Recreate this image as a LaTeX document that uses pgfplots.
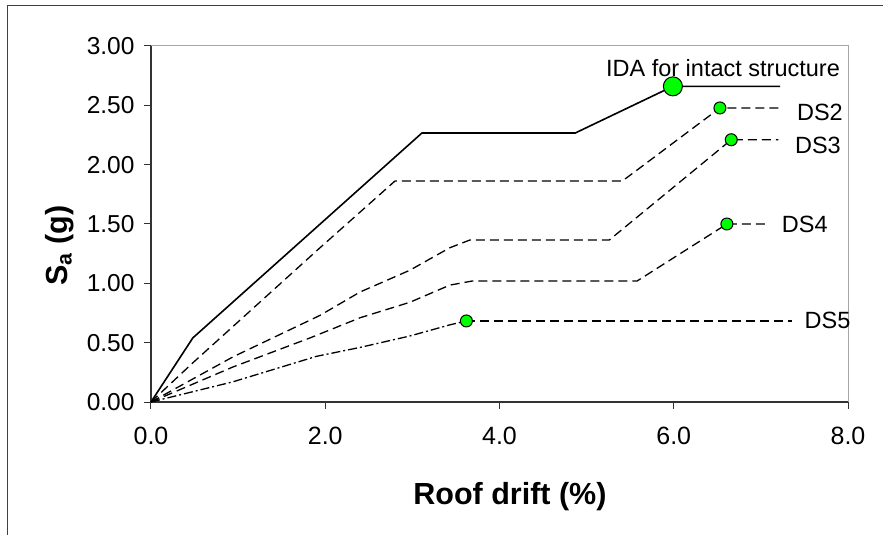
\documentclass[border=0pt]{standalone}
\usepackage{fontspec}
\setmainfont{Liberation Sans}
\usepackage{pgfplots}
\pgfplotsset{compat=1.18}
\definecolor{mgreen}{RGB}{0,255,0}
\begin{document}
\begin{tikzpicture}
\useasboundingbox (-151pt,-133pt) rectangle (732pt,402pt);
\draw[black!75, line width=1pt] (-143pt,-140pt) -- (-143pt,396pt) -- (740pt,396pt);
\begin{axis}[
  at={(0pt,0pt)}, anchor=south west,
  scale only axis, width=697pt, height=356pt,
  xmin=0, xmax=8, ymin=0, ymax=3,
  xtick={0,2,4,6,8}, ytick={0,0.5,1,1.5,2,2.5,3},
  axis x line*=bottom, axis y line*=left,
  axis line style={-, line width=1.2pt, black!80},
  tick align=outside, major tick length=7pt,
  tick style={black!80, line width=1pt},
  /pgf/number format/assume math mode=true,
  x tick label style={font=\fontsize{25}{29}\selectfont, yshift=-15pt,
    /pgf/number format/.cd, fixed, fixed zerofill, precision=1},
  y tick label style={font=\fontsize{24.5}{28}\selectfont, xshift=-6pt,
    /pgf/number format/.cd, fixed, fixed zerofill, precision=2},
  xlabel={Roof drift (\%)},
  x label style={font=\fontsize{30.5}{35}\selectfont\bfseries, at={(axis description cs:0.515,0)}, anchor=center, yshift=-95pt},
  ylabel={S\textsubscript{a} (g)},
  y label style={font=\fontsize{30.5}{35}\selectfont\bfseries, at={(axis description cs:-0.1306,0.44)}, anchor=center},
  clip=false,
]
\draw[gray!70, line width=1pt] (rel axis cs:0,1) -- (rel axis cs:1,1) -- (rel axis cs:1,0);
% intact structure
\addplot[black, line width=1.6pt] coordinates {(0,0) (0.48,0.54) (3.11,2.267) (4.87,2.267) (5.99,2.66) (7.22,2.66)};
% DS2
\addplot[black, line width=1.3pt, dash pattern=on 9pt off 5pt] coordinates {(0,0) (0.48,0.33) (1.94,1.30) (2.80,1.862) (5.41,1.862) (6.53,2.478) (7.2,2.478)};
% DS3
\addplot[black, line width=1.3pt, dash pattern=on 9pt off 5pt] coordinates {(0,0) (0.94,0.38) (1.94,0.73) (2.40,0.927) (2.97,1.11) (3.43,1.30) (3.66,1.365) (5.26,1.365) (6.66,2.21) (7.2,2.21)};
% DS4
\addplot[black, line width=1.3pt, dash pattern=on 9pt off 5pt] coordinates {(0,0) (0.94,0.295) (1.825,0.54) (2.40,0.71) (2.97,0.84) (3.43,0.985) (3.69,1.02) (5.58,1.02) (6.61,1.50) (7.1,1.50)};
% DS5
\addplot[black, line width=1.3pt, dash pattern=on 9pt off 3pt on 2pt off 3pt] coordinates {(0,0) (0.94,0.17) (1.9,0.385) (2.40,0.46) (2.97,0.556) (3.43,0.65) (3.62,0.683)};
\addplot[black, line width=1.3pt, dash pattern=on 9pt off 5pt] coordinates {(3.62,0.683) (7.36,0.683)};
% markers
\addplot[only marks, mark=*, mark size=9.5pt, mark options={fill=mgreen, draw=black, line width=1pt}] coordinates {(5.99,2.66)};
\addplot[only marks, mark=*, mark size=6pt, mark options={fill=mgreen, draw=black, line width=1pt}] coordinates {(6.53,2.478) (6.66,2.21) (6.61,1.50) (3.62,0.683)};
% labels
\node[anchor=base, inner sep=0pt, font=\fontsize{23.5}{27}\selectfont] at (axis cs:6.565,2.739) {IDA for intact structure};
\node[anchor=base west, inner sep=0pt, font=\fontsize{23.5}{27}\selectfont] at (axis cs:7.413,2.376) {DS2};
\node[anchor=base west, inner sep=0pt, font=\fontsize{23.5}{27}\selectfont] at (axis cs:7.39,2.09) {DS3};
\node[anchor=base west, inner sep=0pt, font=\fontsize{23.5}{27}\selectfont] at (axis cs:7.24,1.43) {DS4};
\node[anchor=base west, inner sep=0pt, font=\fontsize{23.5}{27}\selectfont] at (axis cs:7.50,0.62) {DS5};
\end{axis}
\end{tikzpicture}
\end{document}
